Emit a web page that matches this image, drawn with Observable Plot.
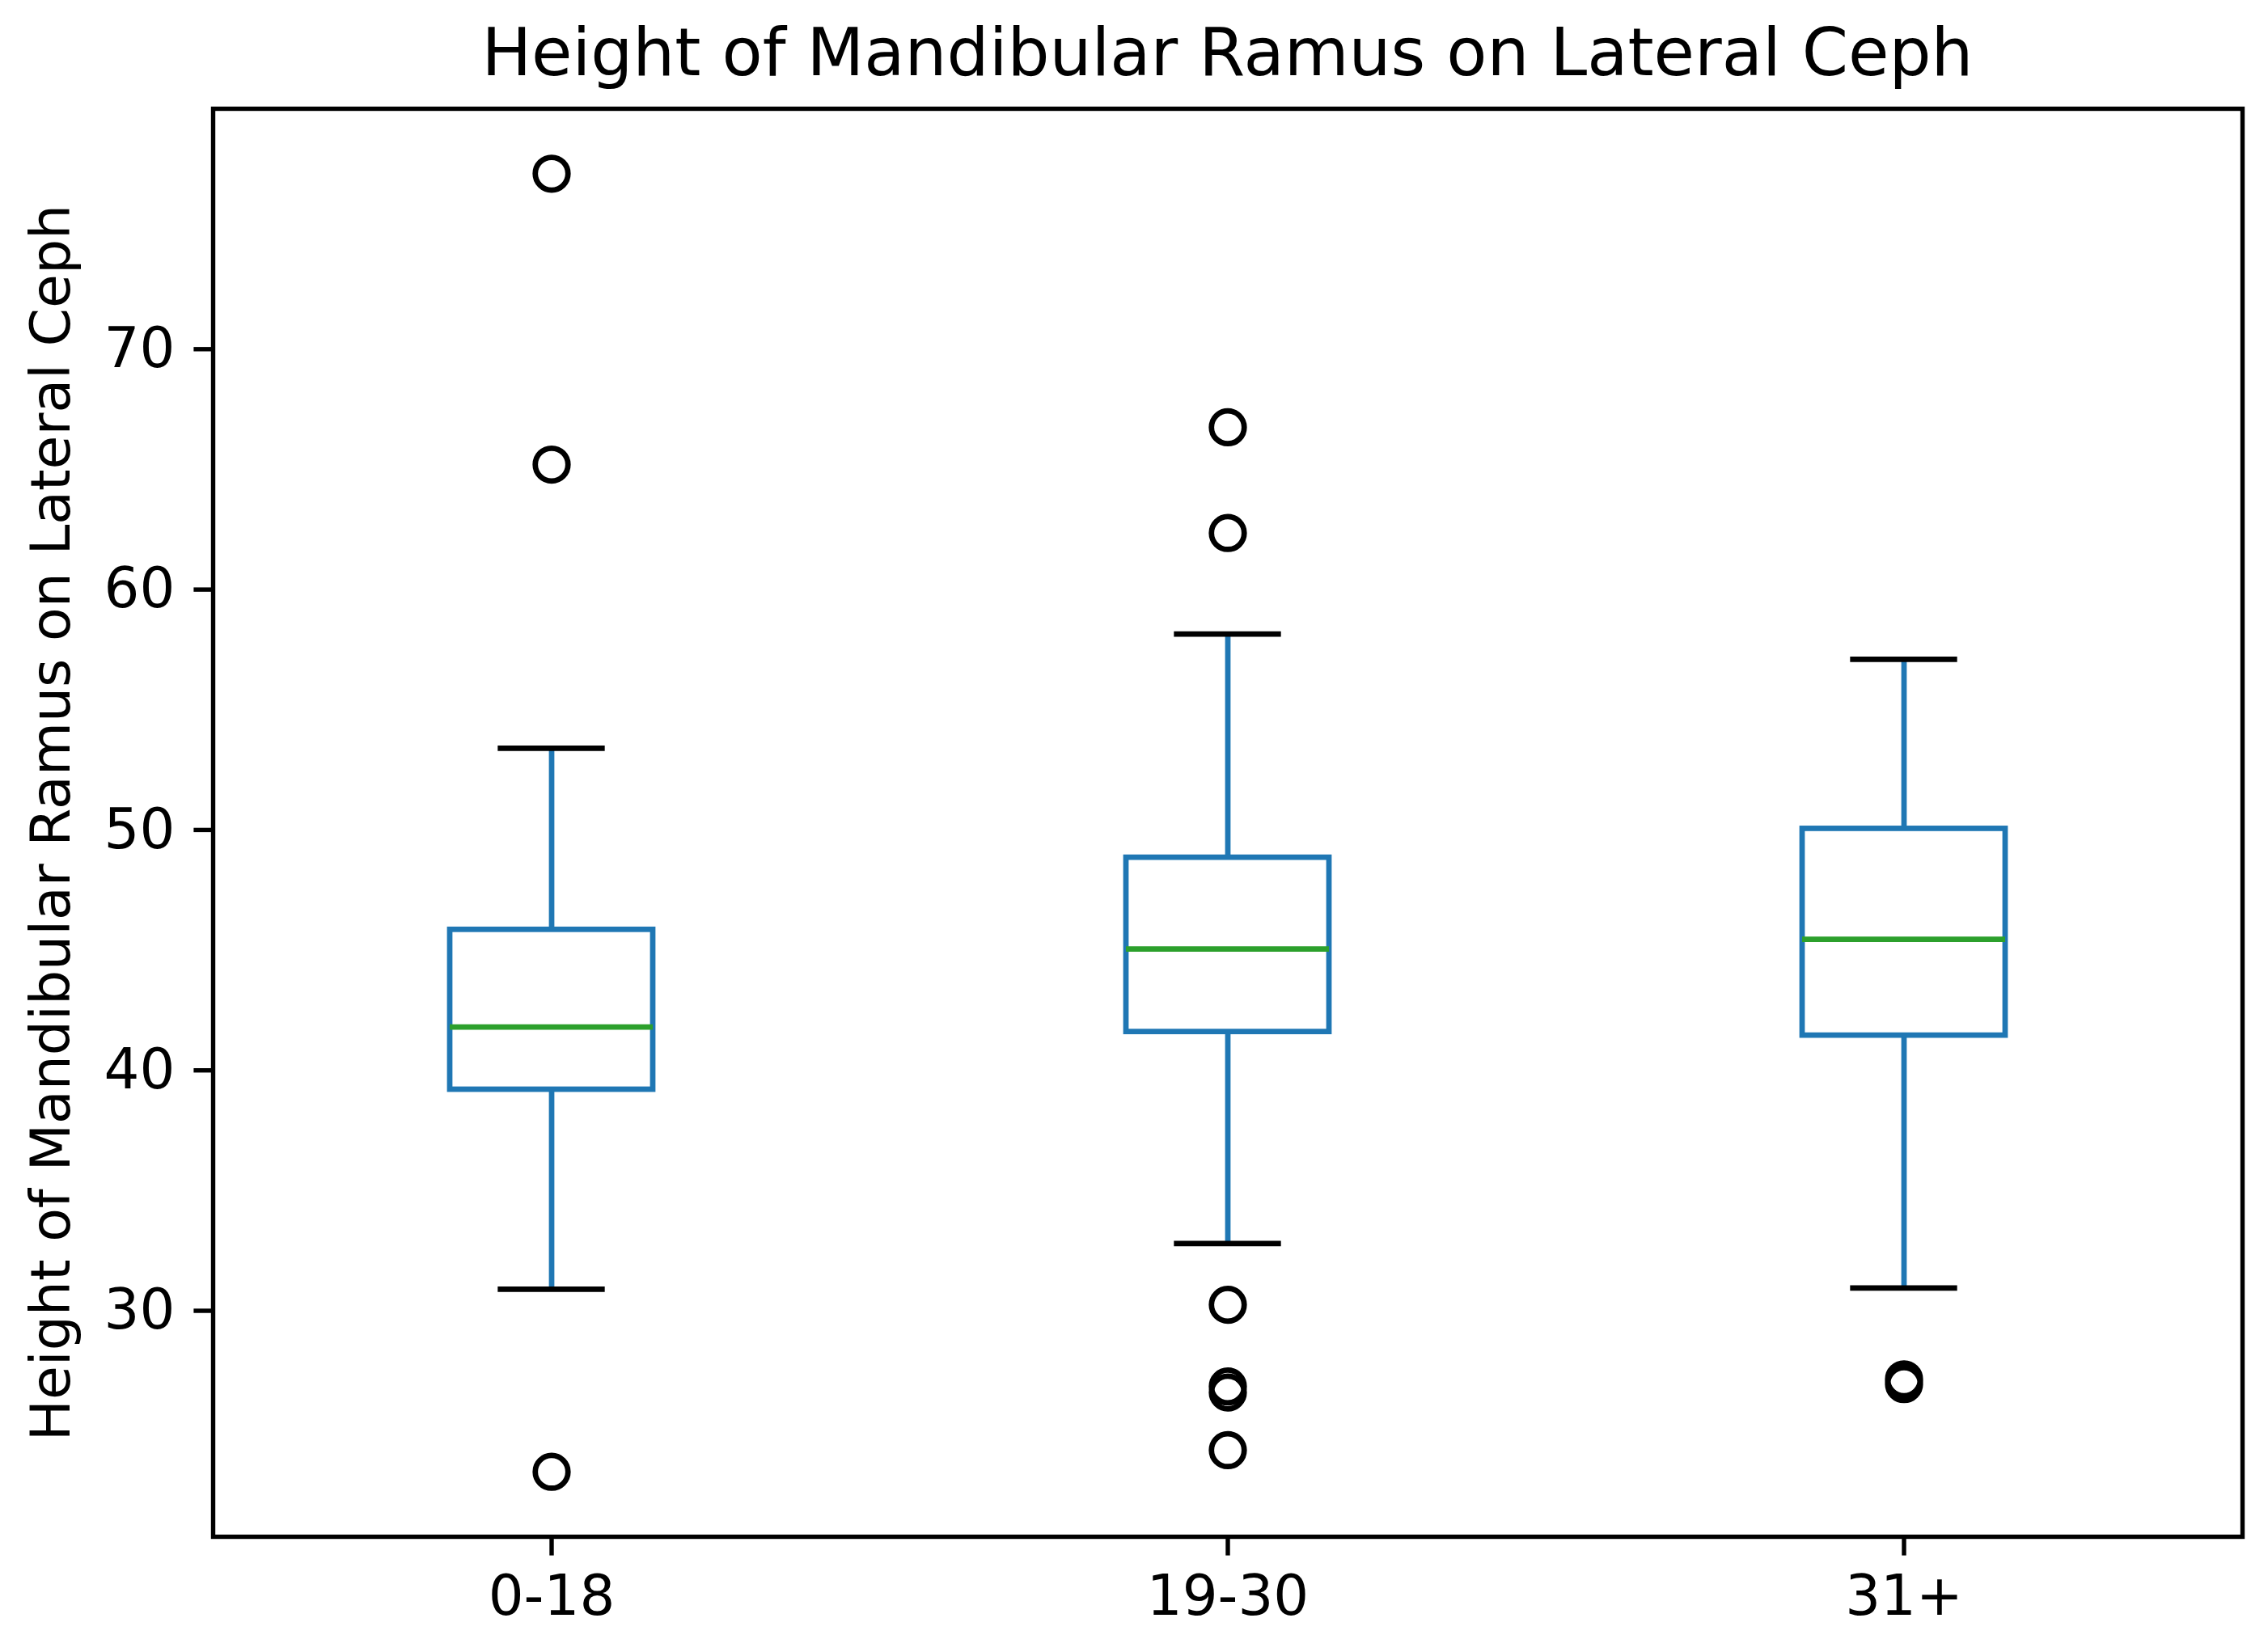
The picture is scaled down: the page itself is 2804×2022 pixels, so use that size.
<!DOCTYPE html>
<html>
<head>
<meta charset="utf-8">
<script src="https://cdn.jsdelivr.net/npm/d3@7"></script>
<script src="https://cdn.jsdelivr.net/npm/@observablehq/plot@0.6"></script>
<style>
  html, body { margin: 0; padding: 0; background: white; }
  #wrap { position: relative; width: 2804px; height: 2022px; }
  #title {
    position: absolute; left: 263px; width: 2509px; top: 24px;
    text-align: center; font-family: "DejaVu Sans", sans-serif;
    font-size: 82px; line-height: 1; color: black; white-space: nowrap;
  }
</style>
</head>
<body>
<div id="wrap">
  <div id="title">Height of Mandibular Ramus on Lateral Ceph</div>
  <div id="chart"></div>
</div>
<script>
// ---- data ----
const categories  = ["0-18", "19-30", "31+"];
const whiskerLow  = [30.9, 32.8, 30.95];
const q1          = [39.2, 41.6, 41.45];
const median      = [41.8, 45.05, 45.45];
const q3          = [45.85, 48.85, 50.05];
const whiskerHigh = [53.4, 58.15, 57.1];

const outlierGroup = ["0-18", "0-18", "0-18",
                      "19-30", "19-30", "19-30", "19-30", "19-30", "19-30",
                      "31+", "31+"];
const outlierValue = [77.3, 65.2, 23.3,
                      66.75, 62.35, 30.25, 26.85, 26.6, 24.2,
                      27.15, 26.95];

const yTicks = [30, 40, 50, 60, 70];
const yLabel = "Height of Mandibular Ramus on Lateral Ceph";

// ---- tables built from the arrays ----
const boxes = categories.map((c, i) => ({
  cat: c, lo: whiskerLow[i], q1: q1[i], med: median[i], q3: q3[i], hi: whiskerHigh[i]
}));
const outliers = outlierGroup.map((c, i) => ({cat: c, v: outlierValue[i]}));

const blue = "#1f77b4", green = "#2ca02c";
const lw = 6.75;
const capInset = 62.7;

const chart = Plot.plot({
  width: 2804,
  height: 2022,
  marginLeft: 263,
  marginRight: 32,
  marginTop: 134,
  marginBottom: 122,
  style: {fontFamily: "DejaVu Sans, sans-serif", background: "white", color: "black"},
  x: {type: "band", domain: categories, paddingInner: 0.7, paddingOuter: 0.35},
  y: {domain: [20.6, 80.0]},
  marks: [
    // whiskers
    Plot.ruleX(boxes, {x: "cat", y1: "lo", y2: "q1", stroke: blue, strokeWidth: lw}),
    Plot.ruleX(boxes, {x: "cat", y1: "q3", y2: "hi", stroke: blue, strokeWidth: lw}),
    // caps
    Plot.tickY(boxes, {x: "cat", y: "lo", stroke: "black", strokeWidth: lw, insetLeft: capInset, insetRight: capInset, strokeLinecap: "square"}),
    Plot.tickY(boxes, {x: "cat", y: "hi", stroke: "black", strokeWidth: lw, insetLeft: capInset, insetRight: capInset, strokeLinecap: "square"}),
    // boxes
    Plot.barY(boxes, {x: "cat", y1: "q1", y2: "q3", fill: "none", stroke: blue, strokeWidth: lw}),
    // medians
    Plot.tickY(boxes, {x: "cat", y: "med", stroke: green, strokeWidth: lw}),
    // fliers
    Plot.dot(outliers, {x: "cat", y: "v", r: 20.25, stroke: "black", strokeWidth: lw, fill: "none"}),
    // axes
    Plot.axisY({
      ticks: yTicks, tickFormat: d => String(d), tickSize: 23.6, tickPadding: 23.6,
      strokeWidth: 5.4, fontSize: 69, label: null
    }),
    Plot.axisY({
      ticks: [], fontSize: 68,
      label: yLabel, labelAnchor: "center", labelArrow: "none", labelOffset: 226
    }),
    Plot.axisX({
      tickSize: 23.6, tickPadding: 23.6, strokeWidth: 5.4, fontSize: 69, label: null
    }),
    Plot.frame({stroke: "black", strokeWidth: 5.4})
  ]
});
document.getElementById("chart").appendChild(chart);
</script>
</body>
</html>
